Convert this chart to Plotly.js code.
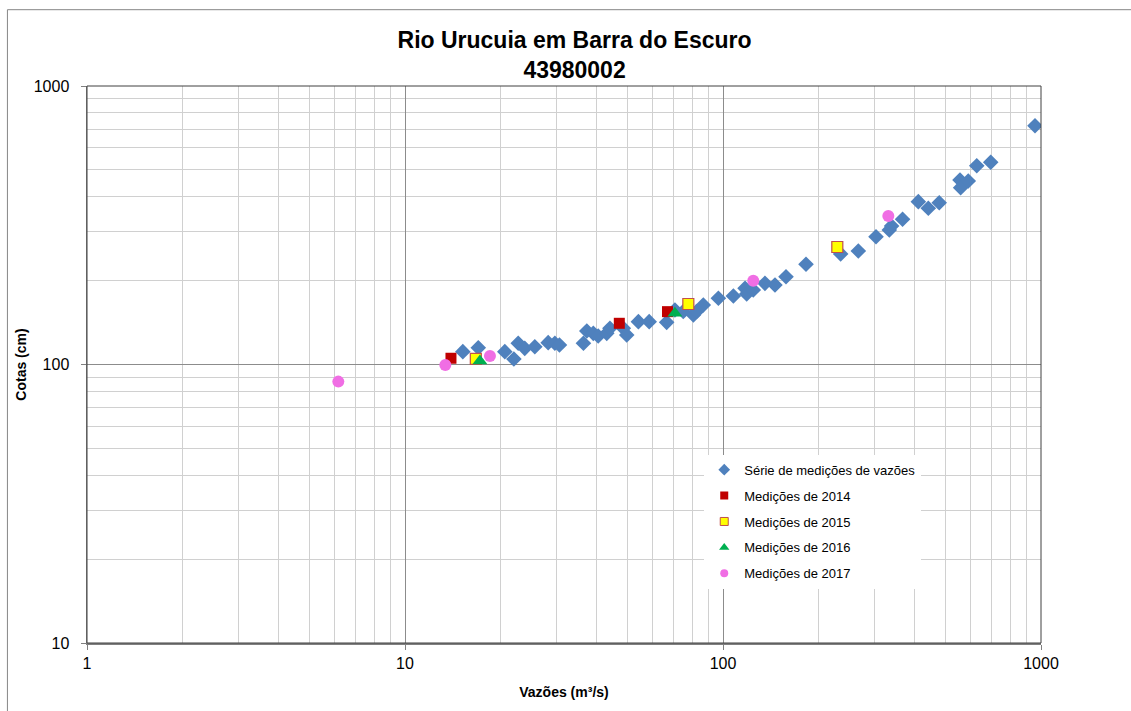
<!DOCTYPE html>
<html>
<head>
<meta charset="utf-8">
<script src="https://cdn.plot.ly/plotly-3.0.1.min.js"></script>
<style>html,body{margin:0;padding:0;background:#fff}#chart{width:1131px;height:711px}</style>
</head>
<body>
<div id="chart"></div>
<script>
// Série de medições de vazões
const serieQ = [15.2, 17.0, 20.6, 22.0, 22.7, 23.8, 25.6, 28.2, 29.6, 30.6, 36.4, 37.3, 39.1, 40.5, 43.1, 44.1, 48.6, 49.8, 54.2, 58.6, 66.5, 70.6, 75.0, 80.7, 82.6, 86.7, 96.7, 107.8, 117.3, 118.7, 124.5, 135.5, 145.7, 157.8, 182.4, 234.4, 266.4, 302.8, 333.4, 339, 367.0, 411.4, 442.2, 478.6, 556.2, 558.9, 590.5, 628, 694.9, 957.5];
const serieH = [111.2, 114.9, 111.2, 104.6, 119.2, 114.3, 115.8, 119.8, 119.2, 117.5, 119.2, 131.9, 129.4, 126.5, 129.4, 134.9, 134.9, 127.6, 142.5, 142.5, 141.7, 157.0, 154.9, 150.6, 154.9, 163.6, 172.9, 176.2, 187.7, 179.1, 185.1, 195.6, 192.9, 206.6, 229.0, 249.5, 255.7, 287.7, 304.1, 314.4, 332.2, 384.3, 363.9, 381.0, 459.7, 431.5, 456.0, 517.4, 532.1, 720];
// Medições de 2014
const q2014 = [13.95, 47.2, 66.9];
const h2014 = [105.3, 140.6, 154.8];
// Medições de 2015
const q2015 = [16.7, 77.8, 228.8];
const h2015 = [104.7, 164.9, 264.2];
// Medições de 2016
const q2016 = [17.2, 70.6];
const h2016 = [102.9, 152.7];
// Medições de 2017
const q2017 = [6.17, 13.39, 18.5, 124.5, 331];
const h2017 = [86.8, 99.6, 107.3, 200, 341.4];

const xTicks = [1, 10, 100, 1000];
const yTicks = [10, 100, 1000];

const seriesNames = ["Série de medições de vazões", "Medições de 2014", "Medições de 2015", "Medições de 2016", "Medições de 2017"];

const FONT = "Liberation Sans, Arial, sans-serif";

const markers = [
  {symbol: "diamond", size: 12, color: "#4f81bd"},
  {symbol: "square", size: 11, color: "#c00000"},
  {symbol: "square", size: 11, color: "#ffff00", line: {color: "#c0504d", width: 1.2}},
  {symbol: "triangle-up", size: 13, color: "#00b050"},
  {symbol: "circle", size: 12, color: "#f06ee4"}
];
const legendMarkers = [
  {symbol: "diamond", size: 9, color: "#4f81bd"},
  {symbol: "square", size: 8, color: "#c00000"},
  {symbol: "square", size: 8, color: "#ffff00", line: {color: "#c0504d", width: 1}},
  {symbol: "triangle-up", size: 9, color: "#00b050"},
  {symbol: "circle", size: 8, color: "#f06ee4"}
];
const xs = [serieQ, q2014, q2015, q2016, q2017];
const ys = [serieH, h2014, h2015, h2016, h2017];

const traces = [];
for (let i = 0; i < xs.length; i++) {
  traces.push({x: xs[i], y: ys[i], name: seriesNames[i], showlegend: false,
    mode: "markers", type: "scatter", marker: markers[i]});
}
for (let i = 0; i < xs.length; i++) {
  traces.push({x: [null], y: [null], name: seriesNames[i], legendgroup: "g" + i,
    showlegend: true, mode: "markers", type: "scatter", marker: legendMarkers[i]});
}

const layout = {
  width: 1131, height: 711,
  paper_bgcolor: "#ffffff", plot_bgcolor: "#ffffff",
  margin: {l: 87, r: 90, t: 86, b: 68},
  font: {family: FONT, color: "#000000", size: 14},
  title: {text: "<b>Rio Urucuia em Barra do Escuro<br>43980002</b>",
          font: {family: FONT, size: 23, color: "#000"},
          x: 0.508, xanchor: "center", y: 0.933, yanchor: "top"},
  showlegend: true,
  legend: {x: 0.647, y: 0.338, xanchor: "left", yanchor: "top",
           bgcolor: "#ffffff", borderwidth: 0, tracegroupgap: 6,
           itemwidth: 30,
           font: {family: FONT, size: 13, color: "#000"}},
  xaxis: {type: "log", range: [0, 3], tickvals: xTicks, ticktext: xTicks.map(String),
          showgrid: true, gridcolor: "#8c8c8c", gridwidth: 1,
          minor: {dtick: "D1", showgrid: true, gridcolor: "#d0d0d0", gridwidth: 1},
          showline: true, linecolor: "#808080", linewidth: 1.5, mirror: false,
          ticks: "outside", ticklen: 5, tickcolor: "#808080",
          zeroline: false, tickfont: {size: 16, family: FONT},
          title: {text: "<b>Vazões (m³/s)</b>", font: {size: 14, family: FONT}, standoff: 16}},
  yaxis: {type: "log", range: [1, 3], tickvals: yTicks, ticktext: yTicks.map(String),
          showgrid: true, gridcolor: "#8c8c8c", gridwidth: 1,
          minor: {dtick: "D1", showgrid: true, gridcolor: "#d0d0d0", gridwidth: 1},
          showline: true, linecolor: "#808080", linewidth: 1.5, mirror: false,
          ticks: "outside", ticklen: 5, tickcolor: "#808080", ticklabelstandoff: 8,
          zeroline: false, tickfont: {size: 16, family: FONT},
          title: {text: "<b>Cotas (cm)</b>", font: {size: 14, family: FONT}, standoff: 4}},
  shapes: [
    {type: "rect", xref: "paper", yref: "paper", layer: "below",
     x0: -0.0834, x1: 1.1, y0: -0.15, y1: 1.137,
     line: {color: "#868686", width: 1}, fillcolor: "rgba(0,0,0,0)"},
    {type: "rect", xref: "paper", yref: "paper", layer: "above",
     x0: 0, x1: 1, y0: 0, y1: 1,
     line: {color: "#404040", width: 1}, fillcolor: "rgba(0,0,0,0)"}
  ]
};

Plotly.newPlot("chart", traces, layout, {displayModeBar: false, staticPlot: true});
</script>
</body>
</html>
